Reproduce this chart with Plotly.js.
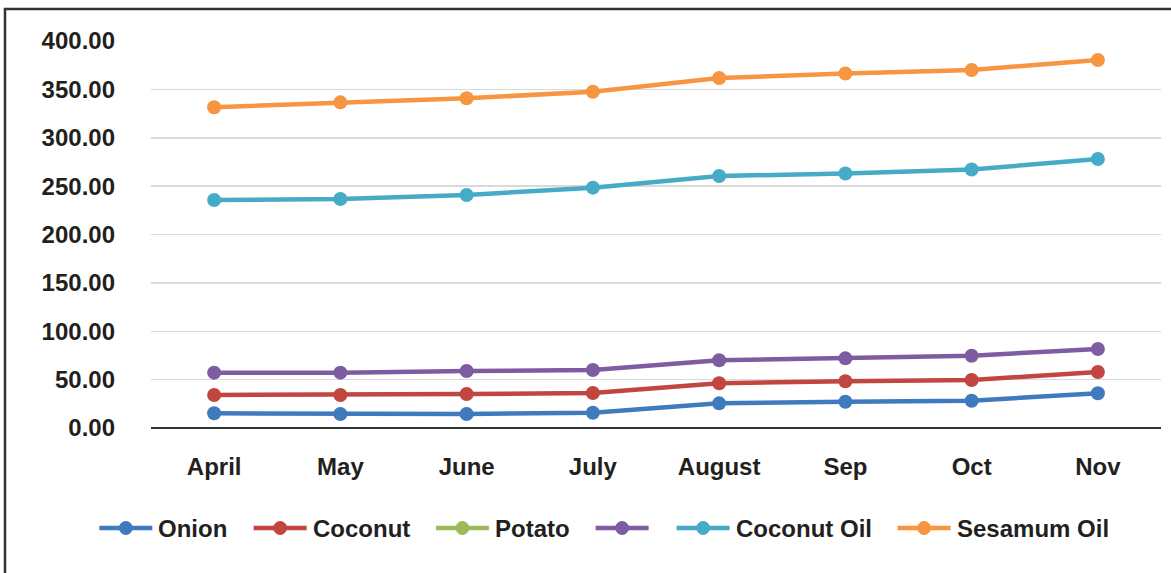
<!DOCTYPE html>
<html>
<head>
<meta charset="utf-8">
<script src="https://cdn.plot.ly/plotly-3.0.1.min.js"></script>
<style>
  html, body { margin: 0; padding: 0; background: #fff; }
  #chart { width: 1171px; height: 573px; }
</style>
</head>
<body>
<div id="chart"></div>
<script>
// Monthly prices per commodity
const months = ["April", "May", "June", "July", "August", "Sep", "Oct", "Nov"];
const onion = [15.2, 14.5, 14.5, 15.8, 25.5, 27.2, 28.2, 35.9];
const coconut = [34.1, 34.1, 35.1, 36.2, 46.2, 48.3, 49.6, 57.9];
const potato = [null, null, null, null, null, null, null, null];
const unnamed = [57.2, 57.2, 58.9, 60.0, 70.0, 72.0, 74.7, 81.7];
const coconutOil = [235.7, 236.7, 240.8, 248.4, 260.5, 263.0, 267.2, 278.0];
const sesamumOil = [331.5, 336.6, 340.8, 347.6, 361.7, 366.4, 370.0, 380.4];
const yTicks = [0, 50, 100, 150, 200, 250, 300, 350, 400];

const seriesList = [
  { name: "Onion", y: onion, color: "#3F79BE" },
  { name: "Coconut", y: coconut, color: "#C0463F" },
  { name: "Potato", y: potato, color: "#9BBB59" },
  { name: "", y: unnamed, color: "#7D5CA1" },
  { name: "Coconut Oil", y: coconutOil, color: "#46ABC6" },
  { name: "Sesamum Oil", y: sesamumOil, color: "#F79540" }
];

const W = 1171, H = 573;
const M = { l: 151, r: 10, t: 41, b: 145 };
const plotW = W - M.l - M.r, plotH = H - M.t - M.b;
const fontFamily = "Liberation Sans, Arial, sans-serif";
const fontSize = 24;
const textColor = "#231F20";

const traces = seriesList.map(s => ({
  type: "scatter",
  mode: "lines+markers",
  name: s.name,
  x: months,
  y: s.y,
  line: { color: s.color, width: 4.5 },
  marker: { color: s.color, size: 14 },
  showlegend: false
}));

// Legend built from shapes and annotations so the key lines can be long
const px2x = px => (px - M.l) / plotW;
const px2y = py => (H - M.b - py) / plotH;
const ctx = document.createElement("canvas").getContext("2d");
ctx.font = "bold " + fontSize + "px Liberation Sans";
const keyLen = 53, keyGap = 4, itemGap = 28, dot = 13;
const widths = seriesList.map(s => keyLen + (s.name ? keyGap + ctx.measureText(s.name).width : 0));
const total = widths.reduce((a, b) => a + b, 0) + itemGap * (seriesList.length - 1);
const legendCenterX = 603, legendY = 528;
let cursor = legendCenterX - total / 2;

const shapes = [{
  type: "rect",
  xref: "paper", yref: "paper",
  x0: px2x(5), x1: px2x(W + 20),
  y0: px2y(H + 20), y1: px2y(9),
  line: { color: "#333333", width: 2.5 },
  fillcolor: "rgba(0,0,0,0)",
  layer: "below"
}];
const annotations = [];

seriesList.forEach((s, i) => {
  const x0 = cursor, x1 = cursor + keyLen, cx = cursor + keyLen / 2;
  shapes.push({
    type: "line", xref: "paper", yref: "paper",
    x0: px2x(x0), x1: px2x(x1), y0: px2y(legendY), y1: px2y(legendY),
    line: { color: s.color, width: 4.5 }
  });
  shapes.push({
    type: "circle", xref: "paper", yref: "paper",
    x0: px2x(cx - dot / 2), x1: px2x(cx + dot / 2),
    y0: px2y(legendY + dot / 2), y1: px2y(legendY - dot / 2),
    fillcolor: s.color, line: { color: s.color, width: 1 }
  });
  if (s.name) {
    annotations.push({
      xref: "paper", yref: "paper",
      x: px2x(x1 + keyGap), y: px2y(legendY),
      xanchor: "left", yanchor: "middle",
      text: s.name, showarrow: false,
      font: { family: fontFamily, size: fontSize, color: textColor, weight: "bold" }
    });
  }
  cursor += widths[i] + itemGap;
});

const layout = {
  width: W,
  height: H,
  margin: M,
  paper_bgcolor: "#ffffff",
  plot_bgcolor: "#ffffff",
  font: { family: fontFamily, size: fontSize, color: textColor },
  showlegend: false,
  xaxis: {
    type: "category",
    range: [-0.5, 7.5],
    showgrid: false,
    showline: false,
    zeroline: false,
    ticks: "",
    ticklabelstandoff: 22,
    tickfont: { family: fontFamily, size: fontSize, color: textColor, weight: "bold" }
  },
  yaxis: {
    range: [0, 400],
    tickvals: yTicks,
    ticktext: yTicks.map(v => v.toFixed(2)),
    showgrid: true,
    gridcolor: "#D9D9D9",
    gridwidth: 1.5,
    zeroline: true,
    zerolinecolor: "#333333",
    zerolinewidth: 2,
    showline: false,
    ticks: "",
    ticklabelstandoff: 35,
    tickfont: { family: fontFamily, size: fontSize, color: textColor, weight: "bold" }
  },
  shapes: shapes,
  annotations: annotations
};

Plotly.newPlot("chart", traces, layout, { staticPlot: true, displayModeBar: false });
</script>
</body>
</html>
